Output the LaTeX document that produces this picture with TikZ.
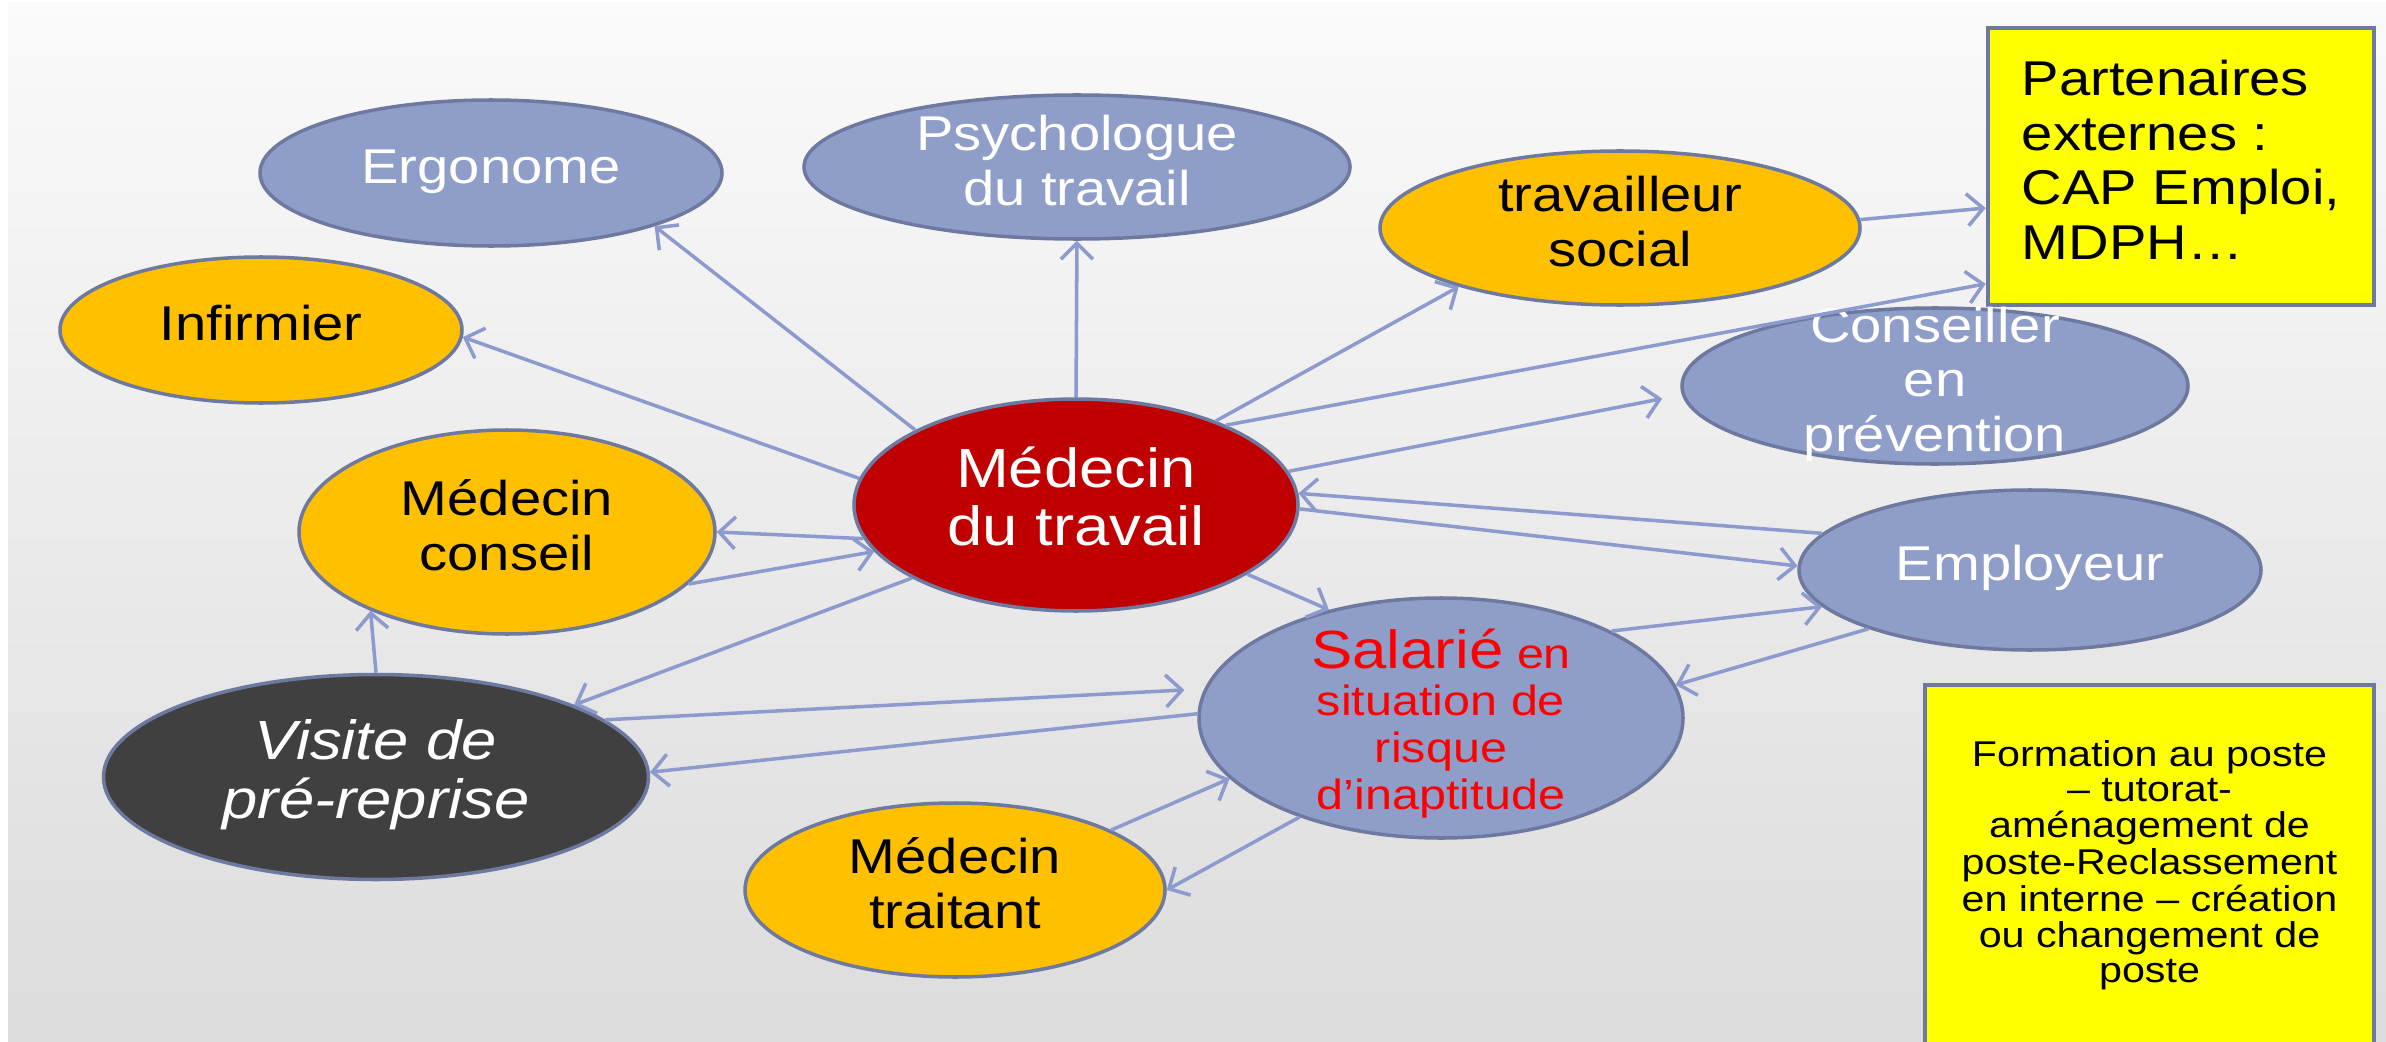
\documentclass[tikz,border=0pt]{standalone}
\usepackage{fontspec}
\setmainfont{Liberation Sans}
\usepackage{graphicx}
\usetikzlibrary{shapes.geometric,arrows.meta}

\definecolor{bleu}{RGB}{143,157,201}
\definecolor{bord}{RGB}{110,121,160}
\definecolor{orangef}{RGB}{255,192,0}
\definecolor{rouge}{RGB}{192,0,0}
\definecolor{sombre}{RGB}{64,64,64}
\definecolor{flechec}{RGB}{140,154,206}
\definecolor{jaune}{RGB}{255,255,0}
\definecolor{fondhaut}{RGB}{250,250,250}
\definecolor{fondbas}{RGB}{220,220,220}

% text is a little wider than Arial in the slide
\newcommand{\wide}[1]{\scalebox{1.15}[1]{\begin{tabular}{@{}c@{}}#1\end{tabular}}}
\newcommand{\wideleft}[1]{\scalebox{1.15}[1]{\begin{tabular}{@{}l@{}}#1\end{tabular}}}
\newcommand{\txtnoeud}{\fontsize{13.9}{15.6}\selectfont}
\newcommand{\txtcentre}{\fontsize{15.7}{16.5}\selectfont}
\newcommand{\txtsal}{\fontsize{12}{13.4}\selectfont}
\newcommand{\txtsalgrand}{\fontsize{15.3}{13.4}\selectfont}
\newcommand{\txtvisite}{\fontsize{15.7}{16.8}\selectfont\itshape}
\newcommand{\txtform}{\fontsize{10.2}{9.9}\selectfont}

\tikzset{
  bulle/.style={ellipse, draw=bord, line width=1pt, inner sep=0pt},
  bleue/.style={bulle, fill=bleu},
  orangee/.style={bulle, fill=orangef},
  encadre/.style={rectangle, draw=bord, line width=1.3pt, fill=jaune, inner sep=0pt},
  fleche/.style={draw=flechec, line width=1pt, -{Straight Barb[length=1.6mm,width=3.2mm]}},
}

\begin{document}
\begin{tikzpicture}
  \useasboundingbox (0,0) rectangle (23.86,10.41);
  \clip (0,0) rectangle (23.86,10.41);

  % background
  \fill[white] (0,0) rectangle (23.86,10.41);
  \shade[top color=fondhaut, bottom color=fondbas] (0.08,0) rectangle (23.86,10.38);

  % top row
  \node[bleue, minimum width=4.62cm, minimum height=1.46cm,
    label={[text=white, font=\txtnoeud]center:\wide{Ergonome}}] (ergo) at (4.91,8.68) {};
  \node[bleue, minimum width=5.46cm, minimum height=1.44cm,
    label={[text=white, font=\txtnoeud]center:\wide{Psychologue\\du travail}}] (psycho) at (10.77,8.74) {};
  \node[orangee, minimum width=4.80cm, minimum height=1.54cm,
    label={[text=black, font=\txtnoeud]center:\wide{travailleur\\social}}] (travsoc) at (16.20,8.13) {};
  \node[encadre, minimum width=3.86cm, minimum height=2.77cm, font=\txtnoeud]
    (partenaires) at (21.81,8.745) {\wideleft{Partenaires\\externes :\\CAP Emploi,\\MDPH…}};

  % middle
  \node[orangee, minimum width=4.02cm, minimum height=1.46cm,
    label={[text=black, font=\txtnoeud]center:\wide{Infirmier}}] (infirmier) at (2.61,7.11) {};
  \node[bleue, minimum width=5.06cm, minimum height=1.56cm,
    label={[text=white, font=\txtnoeud]center:\wide{Conseiller\\en\\prévention}}] (conseiller) at (19.35,6.55) {};
  \node[bulle, fill=rouge, minimum width=4.44cm, minimum height=2.12cm,
    label={[text=white, font=\txtcentre]center:\wide{Médecin\\du travail}}] (medtrav) at (10.76,5.36) {};
  \node[orangee, minimum width=4.16cm, minimum height=2.04cm,
    label={[text=black, font=\txtnoeud]center:\wide{Médecin\\conseil}}] (medconseil) at (5.07,5.09) {};
  \node[bleue, minimum width=4.62cm, minimum height=1.60cm,
    label={[text=white, font=\txtnoeud]center:\wide{Employeur}}] (employeur) at (20.30,4.71) {};

  % bottom
  \node[bleue, minimum width=4.84cm, minimum height=2.40cm,
    label={[text=red, font=\txtsal, yshift=-0.08cm]center:\wide{{\txtsalgrand Salarié} en\\situation de\\risque\\d’inaptitude}}] (salarie) at (14.41,3.23) {};
  \node[bulle, fill=sombre, minimum width=5.45cm, minimum height=2.05cm,
    label={[text=white, font=\txtvisite]center:\wide{Visite de\\pré-reprise}}] (visite) at (3.76,2.64) {};
  \node[orangee, minimum width=4.20cm, minimum height=1.74cm,
    label={[text=black, font=\txtnoeud]center:\wide{Médecin\\traitant}}] (traitant) at (9.55,1.51) {};
  \node[encadre, minimum width=4.49cm, minimum height=3.63cm, font=\txtform]
    (formation) at (21.495,1.745) {\wide{Formation au poste\\– tutorat-\\aménagement de\\poste-Reclassement\\en interne – création\\ou changement de\\poste}};

  % connectors
  \draw[fleche] (medtrav.155) -- (ergo.342);
  \draw[fleche] (medtrav.north) -- (psycho.south);
  \draw[fleche] (medtrav.173) -- (infirmier.358);
  \draw[fleche] (medtrav.31) -- (travsoc.200);
  \draw[fleche] (medtrav.28) -- (partenaires.211);
  \draw[fleche] (travsoc.2) -- (partenaires.192);
  \draw[fleche, shorten >=2mm] (medtrav.9) -- (conseiller.182);
  \draw[fleche] (employeur.170) -- (medtrav.3);
  \draw[fleche] (medtrav.359) -- (employeur.179);
  \draw[fleche] (medtrav.338) -- (salarie.136);
  \draw[fleche] (medtrav.189) -- (medconseil.0);
  \draw[fleche] (medconseil.344) -- (medtrav.193);
  \draw[fleche] (medtrav.204) -- (visite.20);
  \draw[fleche] (visite.north) -- (medconseil.210);
  \draw[fleche, shorten >=2mm] (visite.14) -- (salarie.173);
  \draw[fleche] (salarie.179) -- (visite.1);
  \draw[fleche] (traitant.21) -- (salarie.196);
  \draw[fleche] (salarie.215) -- (traitant.0);
  \draw[fleche] (salarie.27) -- (employeur.190);
  \draw[fleche] (employeur.200) -- (salarie.8);
\end{tikzpicture}
\end{document}
